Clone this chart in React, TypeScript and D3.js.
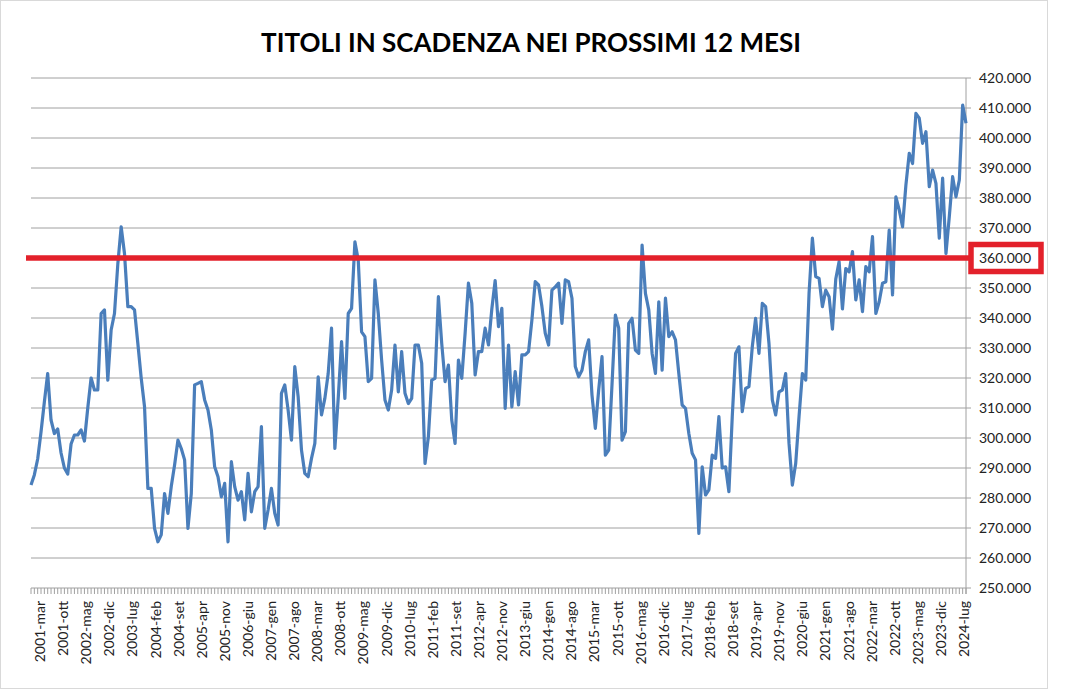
import * as d3 from "d3"

// mesi in italiano, serie mensile da marzo 2001 a luglio 2024 (migliaia)
const MONTHS = ["gen", "feb", "mar", "apr", "mag", "giu", "lug", "ago", "set", "ott", "nov", "dic"]
const START_YEAR = 2001
const START_MONTH = 2
const LABEL_STEP = 7

const VALUES = [
  284.3, 287.7, 293, 302, 312, 321.5, 306, 301.5, 303, 295, 290, 288, 298, 301, 301, 302.7, 299, 310, 320, 316,
  316, 341.5, 342.7, 319.3, 336, 341.5, 358, 370.4, 361.5, 343.8, 343.8, 342.7, 331.5, 320, 310.4, 283.2, 283.2, 269.9, 265.4, 267.7,
  281.5, 274.9, 283.8, 291, 299.3, 296.5, 292.7, 269.9, 281.5, 317.7, 318.2, 318.8, 312.7, 309.3, 302.7, 290.4, 287.1, 280.4, 284.9, 265.4,
  292.1, 283.8, 279.3, 282.1, 272.7, 288.2, 275.4, 282.1, 283.8, 303.8, 269.9, 276, 283.2, 274.9, 271, 314.9, 317.7, 309.3, 299.3, 323.8,
  313.8, 296, 288.2, 287.1, 293.2, 298.2, 320.4, 307.7, 313.2, 321.5, 336.6, 296.5, 313.2, 332.1, 313.2, 341.5, 343.2, 365.4, 359.3, 335.4,
  333.8, 318.8, 319.9, 352.7, 341.5, 326, 312.7, 309.3, 316, 331, 315.4, 328.8, 314.9, 311.5, 313.2, 331, 331, 324.9, 291.5, 300.4,
  319.3, 319.9, 347.1, 331.5, 318.8, 324.3, 306, 298.2, 326, 319.9, 334.9, 351.6, 344.9, 321, 328.8, 328.8, 336.6, 331, 343, 352.5,
  337.1, 343.2, 309.9, 331, 310.4, 322.1, 311, 327.7, 327.7, 328.8, 339.3, 352.1, 351, 343.8, 334.9, 331, 349.3, 350.4, 351.6, 338.2,
  352.7, 352.1, 346.6, 323.8, 320.4, 322.6, 328.8, 332.7, 314.3, 303.2, 316, 327.1, 294.3, 296, 318, 341, 336.6, 299.3, 302.1, 338.2,
  339.9, 329.3, 328.2, 364.3, 348.2, 342.7, 328.2, 321.5, 345.4, 322.6, 346.6, 333.8, 335.4, 332.7, 321.5, 311, 309.9, 301.5, 294.9, 292.7,
  268.2, 290.4, 281, 282.7, 294.3, 293.2, 307.1, 290, 290.4, 282.1, 307.1, 328.2, 330.4, 308.8, 316.5, 317.1, 330.4, 339.9, 328.2, 344.9,
  343.8, 331.5, 312.7, 307.7, 315.4, 316, 321.5, 298.2, 284.3, 291.5, 307.1, 321.5, 319.3, 348.2, 366.6, 353.8, 353.2, 343.8, 349.3, 347.1,
  336.3, 353, 358.8, 343, 356.5, 355.4, 362.1, 346, 352.7, 342.1, 357.1, 355.4, 367.1, 341.5, 345.4, 351.6, 352.1, 369.3, 347.7, 380.4,
  376, 370.4, 384.3, 394.9, 391.5, 408.2, 406.6, 398.2, 402.1, 383.8, 389.3, 384.9, 366.6, 386.6, 361.5, 373.8, 387.1, 380.4, 386, 411,
  404.9,
]

const Y_TICKS = d3.range(250, 421, 10)
const THRESHOLD = 360

const width = 1070
const height = 696
const plot = { left: 31, right: 966, top: 78, bottom: 588 }
const font = "Lato, 'Open Sans', sans-serif"

export default function App() {
  const categories = VALUES.map((_, i) => {
    const m = START_MONTH + i
    return `${START_YEAR + Math.floor(m / 12)}-${MONTHS[m % 12]}`
  })

  const x = d3.scalePoint().domain(categories).range([plot.left, plot.right])
  const xLabel = d3.scalePoint().domain(categories).range([plot.left + 9, plot.right - 2])
  const y = d3.scaleLinear().domain([250, 420]).range([plot.bottom, plot.top])

  const fmt = d3
    .formatLocale({ decimal: ",", thousands: ".", grouping: [3], currency: ["€", ""] })
    .format(",.0f")

  const line = d3
    .line<number>()
    .x((_, i) => x(categories[i]) as number)
    .y((d) => y(d))

  const labelled = categories.filter((_, i) => i % LABEL_STEP === 0)
  const yT = y(THRESHOLD)

  return (
    <svg
      width={width}
      height={height}
      style={{ position: "absolute", left: 0, top: 0, background: "#fff" }}
      fontFamily={font}
    >
      <rect x={0.5} y={0.5} width={1047} height={688} fill="#fff" stroke="#d9d9d9" />

      <text x={531} y={52} textAnchor="middle" fontSize={26} fontWeight="bold" fill="#000">
        TITOLI IN SCADENZA NEI PROSSIMI 12 MESI
      </text>

      {/* griglia */}
      {Y_TICKS.map((t) => (
        <line key={t} x1={plot.left} x2={plot.right} y1={y(t)} y2={y(t)} stroke="#a0a0a0" strokeWidth={1} />
      ))}

      {/* asse destro */}
      <line x1={plot.right} x2={plot.right} y1={plot.top} y2={plot.bottom + 6} stroke="#a0a0a0" />
      {Y_TICKS.map((t) => (
        <g key={"yl" + t}>
          <line x1={plot.right} x2={plot.right + 5} y1={y(t)} y2={y(t)} stroke="#a0a0a0" />
          <text x={979} y={y(t) + 5} fontSize={14} fill="#222">
            {fmt(t * 1000)}
          </text>
        </g>
      ))}

      {/* asse categorie */}
      {categories.map((c) => (
        <line key={"xt" + c} x1={x(c)} x2={x(c)} y1={plot.bottom} y2={plot.bottom + 6} stroke="#a0a0a0" />
      ))}
      {labelled.map((c) => (
        <text
          key={"xl" + c}
          transform={`translate(${(xLabel(c) as number) + 5},601) rotate(-90)`}
          textAnchor="end"
          fontSize={14}
          fill="#222"
        >
          {c}
        </text>
      ))}

      <path d={line(VALUES) ?? ""} fill="none" stroke="#4a7ebb" strokeWidth={3.2} strokeLinejoin="round" />

      {/* soglia 360.000 */}
      <line x1={26} x2={971} y1={yT} y2={yT} stroke="#e3212b" strokeWidth={5.5} />
      <rect x={971} y={yT - 13.5} width={70} height={27} fill="none" stroke="#e3212b" strokeWidth={5.5} />
    </svg>
  )
}
